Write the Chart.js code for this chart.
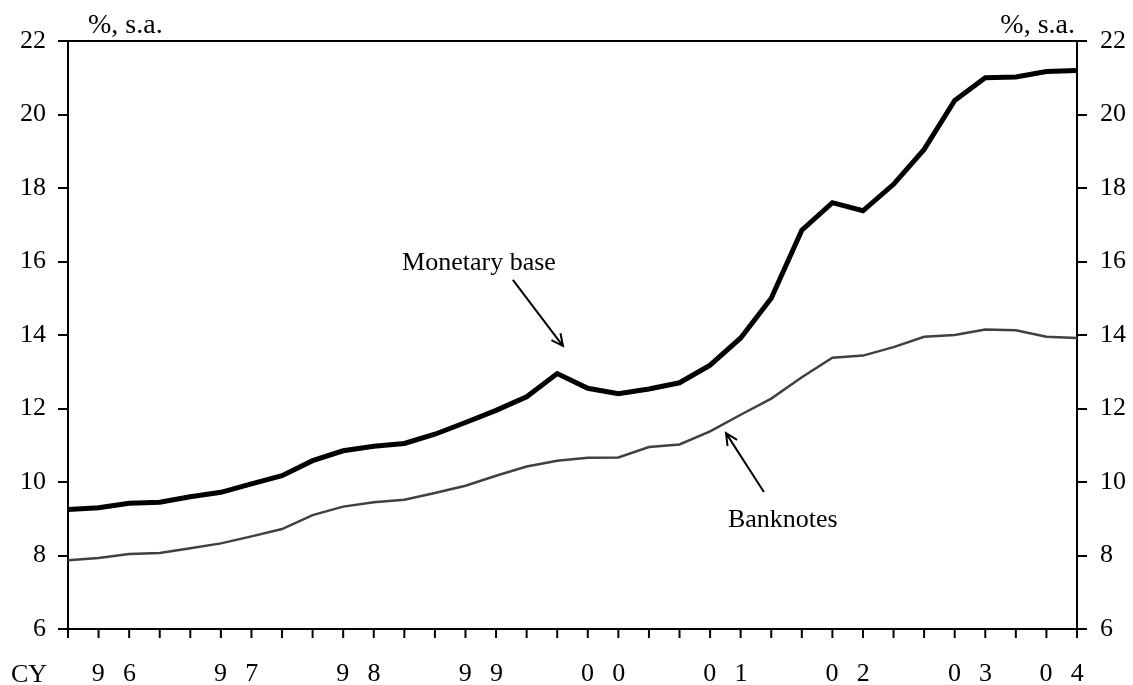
<!DOCTYPE html>
<html>
<head>
<meta charset="utf-8">
<script src="https://cdn.jsdelivr.net/npm/chart.js@4.4.1/dist/chart.umd.min.js"></script>
<style>
  html, body { margin: 0; background: #fff; }
</style>
</head>
<body>
<canvas id="chart" width="1133" height="685"></canvas>
<script>
// Quarterly data, 1996 Q1 - 2004 Q2
const quarters = [
  '1996Q1', '1996Q2', '1996Q3', '1996Q4',
  '1997Q1', '1997Q2', '1997Q3', '1997Q4',
  '1998Q1', '1998Q2', '1998Q3', '1998Q4',
  '1999Q1', '1999Q2', '1999Q3', '1999Q4',
  '2000Q1', '2000Q2', '2000Q3', '2000Q4',
  '2001Q1', '2001Q2', '2001Q3', '2001Q4',
  '2002Q1', '2002Q2', '2002Q3', '2002Q4',
  '2003Q1', '2003Q2', '2003Q3', '2003Q4',
  '2004Q1', '2004Q2'
];

const monetaryBase = [
  9.25, 9.30, 9.42, 9.45,
  9.60, 9.72, 9.95, 10.17,
  10.58, 10.85, 10.97, 11.05,
  11.30, 11.62, 11.95, 12.32,
  12.95, 12.55, 12.40, 12.53,
  12.70, 13.18, 13.92, 15.00,
  16.85, 17.60, 17.38, 18.10,
  19.05, 20.38, 21.00, 21.02,
  21.17, 21.20
];

const banknotes = [
  7.87, 7.93, 8.04, 8.07,
  8.20, 8.33, 8.52, 8.72,
  9.10, 9.33, 9.45, 9.52,
  9.70, 9.90, 10.17, 10.42,
  10.58, 10.66, 10.67, 10.95,
  11.02, 11.38, 11.83, 12.27,
  12.85, 13.38, 13.44, 13.67,
  13.95, 14.00, 14.15, 14.13,
  13.95, 13.92
];

// spaced-out two digit year labels, as in the original
const yearLabels = ['96', '97', '98', '99', '00', '01', '02', '03', '04'].map(s => s[0] + ' \u2009 ' + s[1]);
const yMin = 6;
const yMax = 22;
const yStep = 2;

const FONT = 'Liberation Serif, Times New Roman, serif';

// Center of each year's quarters, in index units
const yearCenters = [];
(function () {
  let start = 0;
  for (let i = 1; i <= quarters.length; i++) {
    if (i === quarters.length || quarters[i].slice(0, 4) !== quarters[start].slice(0, 4)) {
      yearCenters.push((start + i - 1) / 2);
      start = i;
    }
  }
})();

function arrow(ctx, x1, y1, x2, y2) {
  const ang = Math.atan2(y2 - y1, x2 - x1);
  const head = 13;
  ctx.beginPath();
  ctx.moveTo(x1, y1);
  ctx.lineTo(x2, y2);
  ctx.moveTo(x2 - head * Math.cos(ang - 0.45), y2 - head * Math.sin(ang - 0.45));
  ctx.lineTo(x2, y2);
  ctx.lineTo(x2 - head * Math.cos(ang + 0.45), y2 - head * Math.sin(ang + 0.45));
  ctx.stroke();
}

const decorations = {
  id: 'decorations',
  afterDraw(chart) {
    const ctx = chart.ctx;
    const area = chart.chartArea;
    const x = chart.scales.x;
    const y = chart.scales.y;
    ctx.save();
    ctx.strokeStyle = '#000';
    ctx.fillStyle = '#000';

    // top frame line
    ctx.lineWidth = 2;
    ctx.beginPath();
    ctx.moveTo(area.left, area.top);
    ctx.lineTo(area.right, area.top);
    ctx.stroke();

    // quarter tick marks: long at first/last quarter of each year
    quarters.forEach((q, i) => {
      const px = x.getPixelForValue(i);
      const qn = q.slice(5);
      const long = qn === 'Q1' || qn === 'Q4' || i === quarters.length - 1;
      ctx.beginPath();
      ctx.moveTo(px, area.bottom - (long ? 12 : 0));
      ctx.lineTo(px, area.bottom + 9);
      ctx.stroke();
    });

    // unit titles
    ctx.font = '28px ' + FONT;
    ctx.textBaseline = 'alphabetic';
    ctx.textAlign = 'left';
    ctx.fillText('%, s.a.', area.left + 20, 33);
    ctx.textAlign = 'right';
    ctx.fillText('%, s.a.', area.right - 2, 33);

    // CY label
    ctx.font = '26px ' + FONT;
    ctx.textAlign = 'left';
    ctx.fillText('CY', 11, 682);

    // annotations
    ctx.font = '26px ' + FONT;
    ctx.textAlign = 'center';
    ctx.textBaseline = 'middle';
    ctx.fillText('Monetary base', x.getPixelForValue(13.44), y.getPixelForValue(15.96));
    ctx.fillText('Banknotes', x.getPixelForValue(23.38), y.getPixelForValue(8.97));
    ctx.lineWidth = 2;
    arrow(ctx, x.getPixelForValue(14.55), y.getPixelForValue(15.5),
               x.getPixelForValue(16.19), y.getPixelForValue(13.70));
    arrow(ctx, x.getPixelForValue(22.76), y.getPixelForValue(9.73),
               x.getPixelForValue(21.52), y.getPixelForValue(11.33));
    ctx.restore();
  }
};

const yAxis = (position, width, pad) => ({
  position: position,
  min: yMin,
  max: yMax,
  ticks: {
    stepSize: yStep,
    color: '#000',
    padding: pad,
    font: { family: FONT, size: 26 }
  },
  grid: { drawOnChartArea: false, tickLength: 10, color: '#000', lineWidth: 2 },
  border: { color: '#000', width: 2 },
  afterFit: s => { s.width = width; }
});

new Chart(document.getElementById('chart'), {
  type: 'line',
  data: {
    datasets: [
      {
        label: 'Monetary base',
        data: monetaryBase.map((v, i) => ({ x: i, y: v })),
        borderColor: '#000',
        borderWidth: 5,
        pointRadius: 0,
        tension: 0
      },
      {
        label: 'Banknotes',
        data: banknotes.map((v, i) => ({ x: i, y: v })),
        borderColor: '#404040',
        borderWidth: 2.5,
        pointRadius: 0,
        tension: 0
      }
    ]
  },
  options: {
    responsive: false,
    devicePixelRatio: 1,
    animation: false,
    layout: { padding: { top: 41, left: 0, right: 0, bottom: 0 } },
    plugins: {
      legend: { display: false },
      tooltip: { enabled: false }
    },
    scales: {
      x: {
        type: 'linear',
        min: 0,
        max: quarters.length - 1,
        afterBuildTicks: s => { s.ticks = yearCenters.map(v => ({ value: v })); },
        ticks: {
          autoSkip: false,
          maxRotation: 0,
          color: '#000',
          padding: 30,
          font: { family: FONT, size: 26 },
          callback: (v, i) => yearLabels[i]
        },
        grid: { display: false, drawTicks: false },
        border: { color: '#000', width: 2 },
        afterFit: s => { s.height = 56; }
      },
      y: yAxis('left', 68, 12),
      y2: yAxis('right', 56, 13)
    }
  },
  plugins: [decorations]
});
</script>
</body>
</html>
